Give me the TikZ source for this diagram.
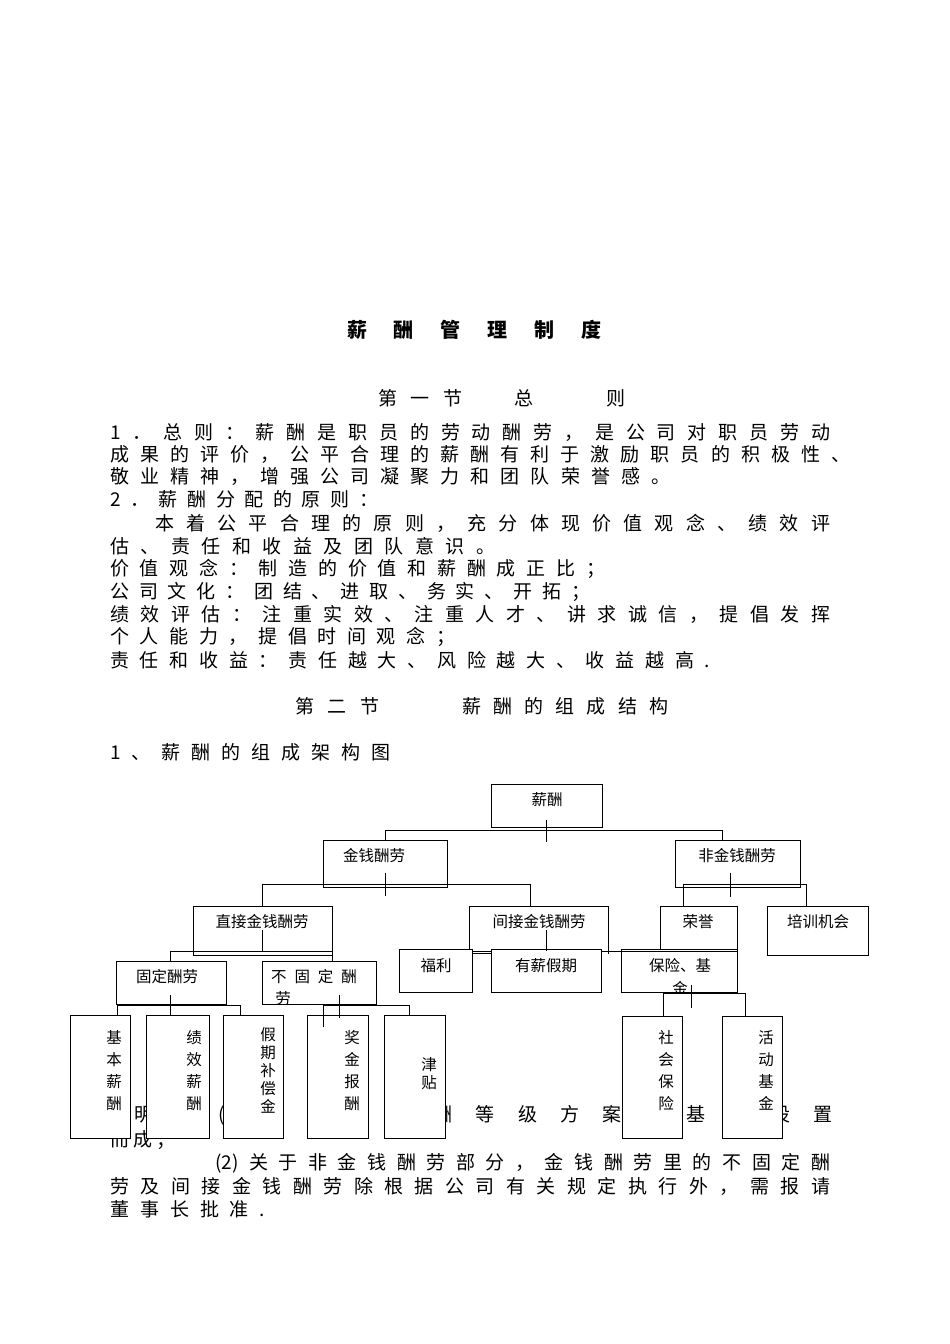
\documentclass[tikz,border=0pt]{standalone}
\usepackage{fontspec}
\setmainfont{Noto Sans CJK SC}
\newcommand{\bx}[5]{\node[box,anchor=north west,minimum width=#4pt-#2pt,minimum height=#5pt-#3pt] (#1) at (#2,#3) {};}
\newcommand{\tl}[4]{\node[txt] (#1) at (#2,#3) {#4};}
\newcommand{\jl}[5]{\node[txt] (#1) at (#2,#3) {\makebox[#4pt][s]{#5}};}
\begin{document}
\begin{tikzpicture}[x=1pt,y=-1pt,
 box/.style={draw,fill=white,line width=0.8pt,inner sep=0pt},
 txt/.style={anchor=west,inner sep=0pt,font=\fontsize{19}{20}\selectfont},
 bt/.style={inner sep=0pt,font=\fontsize{15.5}{16}\selectfont},
 vt/.style={inner sep=0pt,align=center,font=\fontsize{15.5}{22}\selectfont},
 con/.style={line width=0.8pt}]
\useasboundingbox[fill=white] (0,0) rectangle (950,1344);
\node[font=\fontsize{20}{22}\selectfont\bfseries,inner sep=0pt] (title) at (474,330) {\makebox[254pt][s]{薪 酬 管 理 制 度}};
\tl{s1a}{378}{398}{\makebox[84pt][s]{第 一 节}}
\tl{s1b}{514}{398}{总}
\tl{s1c}{606}{398}{则}
\jl{l1}{110}{432}{720}{1 ． 总 则 ： 薪 酬 是 职 员 的 劳 动 酬 劳 ， 是 公 司 对 职 员 劳 动}
\jl{l2}{110}{454}{740}{成 果 的 评 价 ， 公 平 合 理 的 薪 酬 有 利 于 激 励 职 员 的 积 极 性 、}
\jl{l3}{110}{477}{560}{敬 业 精 神 ， 增 强 公 司 凝 聚 力 和 团 队 荣 誉 感 。}
\jl{l4}{110}{499}{268}{2 ． 薪 酬 分 配 的 原 则 ：}
\jl{l5}{155}{523}{675}{本 着 公 平 合 理 的 原 则 ， 充 分 体 现 价 值 观 念 、 绩 效 评}
\jl{l6}{110}{546}{385}{估 、 责 任 和 收 益 及 团 队 意 识 。}
\jl{l7}{110}{569}{495}{价 值 观 念 ： 制 造 的 价 值 和 薪 酬 成 正 比 ；}
\jl{l8}{110}{592}{480}{公 司 文 化 ： 团 结 、 进 取 、 务 实 、 开 拓 ；}
\jl{l9}{110}{614}{720}{绩 效 评 估 ： 注 重 实 效 、 注 重 人 才 、 讲 求 诚 信 ， 提 倡 发 挥}
\jl{l10}{110}{637}{345}{个 人 能 力 ， 提 倡 时 间 观 念 ；}
\jl{l11}{110}{660}{600}{责 任 和 收 益 ： 责 任 越 大 、 风 险 越 大 、 收 益 越 高 .}
\tl{s2a}{295}{706}{\makebox[84pt][s]{第 二 节}}
\tl{s2b}{462}{706}{\makebox[206pt][s]{薪 酬 的 组 成 结 构}}
\jl{l12}{110}{752}{280}{1 、 薪 酬 的 组 成 架 构 图}
\jl{l13}{92}{1115}{740}{说 明 ： (1) 此 组 图 薪 酬 等 级 方 案 为 基 础 设 置}
\jl{l14}{110}{1140}{65}{而 成 ；}
\jl{l15}{215}{1163}{615}{(2) 关 于 非 金 钱 酬 劳 部 分 ， 金 钱 酬 劳 里 的 不 固 定 酬}
\jl{l16}{110}{1186}{720}{劳 及 间 接 金 钱 酬 劳 除 根 据 公 司 有 关 规 定 执 行 外 ， 需 报 请}
\jl{l17}{110}{1209}{155}{董 事 长 批 准 .}
% boxes
\bx{root}{491}{784}{602}{827}
\bx{jq}{323}{840}{447}{887}
\bx{fjq}{675}{840}{800}{887}
\bx{zj}{193}{906}{332}{951}
\bx{jj}{469}{906}{608}{951}
\bx{ry}{660}{906}{737}{955}
\bx{px}{767}{906}{868}{955}
\bx{fl}{399}{949}{472}{992}
\bx{yx}{491}{949}{601}{992}
\bx{bx}{621}{949}{737}{992}
\bx{gd}{116}{961}{226}{1004}
\bx{bgd}{262}{961}{376}{1004}
\bx{jb}{70}{1015}{130}{1138}
\bx{jx}{146}{1015}{209}{1138}
\bx{jqb}{223}{1015}{283}{1138}
\bx{jjb}{307}{1015}{368}{1138}
\bx{jt}{384}{1015}{445}{1138}
\bx{sh}{622}{1016}{682}{1138}
\bx{hd}{722}{1016}{782}{1138}
% box texts
\node[bt] (t1) at (547,800) {薪酬};
\node[bt] (t2) at (374,856) {金钱酬劳};
\node[bt] (t3) at (737,856) {非金钱酬劳};
\node[bt] (t4) at (262,922) {直接金钱酬劳};
\node[bt] (t5) at (539,922) {间接金钱酬劳};
\node[bt] (t6) at (698,922) {荣誉};
\node[bt] (t7) at (818,922) {培训机会};
\node[bt] (t8) at (436,966) {福利};
\node[bt] (t9) at (546,966) {有薪假期};
\node[bt] (t10) at (680,966) {保险、基};
\begin{scope}
\clip (bx.north west) rectangle (bx.south east);
\node[bt] (t10b) at (680,988) {金};
\end{scope}
\node[bt] (t11) at (167,977) {固定酬劳};
\node[bt] (t12) at (314,977) {\makebox[86pt][s]{不 固 定 酬}};
\begin{scope}
\clip (bgd.north west) rectangle (bgd.south east);
\node[bt] (t12b) at (283,999) {劳};
\end{scope}
\node[vt,anchor=north] (v1) at (114,1030) {基\\本\\薪\\酬};
\node[vt,anchor=north] (v2) at (194,1030) {绩\\效\\薪\\酬};
\node[vt,anchor=north] (v3) at (268,1027) {假\\[-4pt]期\\[-4pt]补\\[-4pt]偿\\[-4pt]金};
\node[vt,anchor=north] (v4) at (352,1030) {奖\\金\\报\\酬};
\node[vt,anchor=north] (v5) at (429,1057) {津\\[-4pt]贴};
\node[vt,anchor=north] (v6) at (666,1030) {社\\会\\保\\险};
\node[vt,anchor=north] (v7) at (766,1030) {活\\动\\基\\金};
% connectors
\draw[con] (jq.north -| 385,0) -- (385,830) -- (722,830) -- (fjq.north -| 722,0);
\draw[con] (546,820) -- (546,842);
\draw[con] (zj.north -| 262,0) -- (262,884) -- (530,884) -- (jj.north -| 530,0);
\draw[con] (385,873) -- (385,896);
\draw[con] (ry.north -| 683,0) -- (683,884) -- (806,884) -- (px.north -| 806,0);
\draw[con] (730,873) -- (730,897);
\draw[con] (gd.north -| 170,0) -- (170,951) -- (332,951) -- (bgd.north -| 332,0);
\draw[con] (193,955) -- (332,955);
\draw[con] (193,930) -- (193,955);
\draw[con] (262,930) -- (262,951);
\draw[con] (fl.east |- 0,953) -- (yx.west |- 0,953);
\draw[con] (yx.east |- 0,951) -- (737,951) -- (bx.north -| 737,0);
\draw[con] (608,951) -- (608,954);
\draw[con] (546,930) -- (546,951);
\draw[con] (jb.north -| 117,0) -- (117,1005) -- (240,1005) -- (jqb.north -| 240,0);
\draw[con] (jx.north -| 170,0) -- (170,995);
\draw[con] (323,1027) -- (323,1005) -- (409,1005) -- (jt.north -| 409,0);
\draw[con] (339,995) -- (339,1018);
\draw[con] (sh.north -| 663,0) -- (663,993) -- (745,993) -- (hd.north -| 745,0);
\draw[con] (691,985) -- (691,1008);
\end{tikzpicture}
\end{document}
